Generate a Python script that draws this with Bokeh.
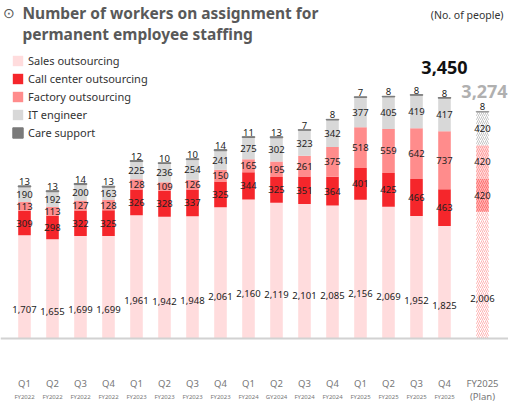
import numpy as np
from bokeh.plotting import figure
from bokeh.models import ColumnDataSource, Range1d, Label, Span, Legend, LegendItem
from bokeh.core.properties import value
from bokeh.embed import file_html
from bokeh.resources import INLINE

# ---------------- data ----------------
quarters = ["Q1", "Q2", "Q3", "Q4"] * 4
fiscal_years = (["FY2022"] * 4 + ["FY2023"] * 4 +
                ["FY2024", "GY2024", "FY2024", "FY2024"] + ["FY2025"] * 4)
sales = [1707, 1655, 1699, 1699, 1961, 1942, 1948, 2061, 2160, 2119, 2101, 2085, 2156, 2069, 1952, 1825]
call_center = [309, 298, 322, 325, 326, 328, 337, 325, 344, 325, 351, 364, 401, 425, 466, 463]
factory = [113, 113, 127, 128, 128, 109, 126, 150, 165, 195, 261, 375, 518, 559, 642, 737]
it_engineer = [190, 192, 200, 163, 225, 236, 254, 241, 275, 302, 323, 342, 377, 405, 419, 417]
care = [13, 13, 14, 13, 12, 10, 10, 14, 11, 13, 7, 8, 7, 8, 8, 8]

plan_label = ["FY2025", "(Plan)"]
plan_sales = [2006]
plan_call_center = [420]
plan_factory = [420]
plan_it_engineer = [420]
plan_care = [8]

series_names = ["Sales outsourcing", "Call center outsourcing", "Factory outsourcing",
                "IT engineer", "Care support"]

# ---------------- layout / style constants ----------------
W, H = 508, 402
AXIS_BASE = 400          # value where the bars start (truncated axis)
PX_PER_UNIT = 0.079
BASELINE_FROM_BOTTOM = 64
STEP_PX = 28
FIRST_CENTER_PX = 24
PLAN_GAP = 38 / 28
BAR_W = 0.45
SALES_LABEL_FRAC = 0.45
FONT_NAME = "Noto Sans"
FONT = value(FONT_NAME)

C_SALES = "#ffdcdd"
C_CALL = "#f5262b"
C_FACT = "#ff8c8c"
C_IT = "#d8d8d8"
C_CARE = "#7a7a7a"

y0 = AXIS_BASE - BASELINE_FROM_BOTTOM / PX_PER_UNIT
y1 = y0 + H / PX_PER_UNIT
x0 = -FIRST_CENTER_PX / STEP_PX
x1 = x0 + W / STEP_PX

p = figure(width=W, height=H, x_range=Range1d(x0, x1), y_range=Range1d(y0, y1),
           output_backend="svg", toolbar_location=None, min_border=0,
           x_axis_location=None, y_axis_location=None)
p.grid.visible = False
p.outline_line_color = None
p.background_fill_color = "white"


def stacks(s, c, f, i, k):
    s = np.array(s, float); c = np.array(c, float); f = np.array(f, float)
    i = np.array(i, float); k = np.array(k, float)
    t1 = s + c
    t2 = t1 + f
    t3 = t2 + i
    t4 = t3 + k
    return s, t1, t2, t3, t4


n = len(sales)
xq = np.arange(n, dtype=float)
xp = np.array([xq[-1] + PLAN_GAP])

s_t, c_t, f_t, i_t, k_t = stacks(sales, call_center, factory, it_engineer, care)
ps_t, pc_t, pf_t, pi_t, pk_t = stacks(plan_sales, plan_call_center, plan_factory,
                                      plan_it_engineer, plan_care)

qsrc = ColumnDataSource(dict(x=xq, base=[AXIS_BASE] * n, s=s_t, c=c_t, f=f_t, i=i_t, k=k_t))
psrc = ColumnDataSource(dict(x=xp, base=[AXIS_BASE], s=ps_t, c=pc_t, f=pf_t, i=pi_t, k=pk_t))

r_s = p.vbar(x="x", width=BAR_W, bottom="base", top="s", source=qsrc, fill_color=C_SALES, line_color=None)
r_c = p.vbar(x="x", width=BAR_W, bottom="s", top="c", source=qsrc, fill_color=C_CALL, line_color=None)
r_f = p.vbar(x="x", width=BAR_W, bottom="c", top="f", source=qsrc, fill_color=C_FACT, line_color=None)
r_i = p.vbar(x="x", width=BAR_W, bottom="f", top="i", source=qsrc, fill_color=C_IT, line_color=None)
r_k = p.vbar(x="x", width=BAR_W, bottom="i", top="k", source=qsrc, fill_color=C_CARE,
             line_color=C_CARE, line_width=1)

# plan bar (hatched)
p.vbar(x="x", width=BAR_W, bottom="base", top="s", source=psrc, fill_color="white",
       line_color=None, hatch_pattern="/", hatch_color="#ffb3b3", hatch_scale=4, hatch_weight=1)
p.vbar(x="x", width=BAR_W, bottom="s", top="c", source=psrc, fill_color="#ffb8b8",
       line_color=None, hatch_pattern="/", hatch_color="#ff6f6f", hatch_scale=4, hatch_weight=1)
p.vbar(x="x", width=BAR_W, bottom="c", top="f", source=psrc, fill_color="#ffdede",
       line_color=None, hatch_pattern="/", hatch_color="#ff9d9d", hatch_scale=4, hatch_weight=1)
p.vbar(x="x", width=BAR_W, bottom="f", top="i", source=psrc, fill_color="white",
       line_color=None, hatch_pattern="/", hatch_color="#c4c4c4", hatch_scale=4, hatch_weight=1)
p.vbar(x="x", width=BAR_W, bottom="i", top="k", source=psrc, fill_color="#9a9a9a",
       line_color="#9a9a9a", line_width=1)

p.add_layout(Span(location=AXIS_BASE, dimension="width", line_color="#d2d2d2", line_width=2))

# ---------------- segment labels ----------------
all_x = np.concatenate([xq, xp])
all_s = np.concatenate([s_t, ps_t])
all_c = np.concatenate([c_t, pc_t])
all_f = np.concatenate([f_t, pf_t])
all_i = np.concatenate([i_t, pi_t])
all_k = np.concatenate([k_t, pk_t])
v_s = list(sales) + plan_sales
v_c = list(call_center) + plan_call_center
v_f = list(factory) + plan_factory
v_i = list(it_engineer) + plan_it_engineer
v_k = list(care) + plan_care

lx, ly, lt = [], [], []
for j in range(len(all_x)):
    lx += [all_x[j]] * 4
    ly += [SALES_LABEL_FRAC * all_s[j], (all_s[j] + all_c[j]) / 2,
           (all_c[j] + all_f[j]) / 2, (all_f[j] + all_i[j]) / 2]
    lt += [f"{v_s[j]:,}", f"{v_c[j]:,}", f"{v_f[j]:,}", f"{v_i[j]:,}"]
lsrc = ColumnDataSource(dict(x=lx, y=ly, t=lt))
p.text(x="x", y="y", text="t", source=lsrc, text_align="center", text_baseline="middle",
       text_font=FONT, text_font_size="9.5px", text_color="#222222")

ksrc = ColumnDataSource(dict(x=all_x, y=all_k, t=[str(v) for v in v_k]))
p.text(x="x", y="y", text="t", source=ksrc, text_align="center", text_baseline="bottom",
       y_offset=-1, text_font=FONT, text_font_size="9.5px", text_color="#222222")

# totals
tq = ColumnDataSource(dict(x=[xq[-1]], y=[k_t[-1]], t=[f"{int(k_t[-1]):,}"]))
p.text(x="x", y="y", text="t", source=tq, text_align="center", text_baseline="middle",
       y_offset=-30, text_font=FONT, text_font_size="18px", text_font_style="bold",
       text_color="#111111")
tp = ColumnDataSource(dict(x=xp, y=pk_t, t=[f"{int(pk_t[0]):,}"]))
p.text(x="x", y="y", text="t", source=tp, text_align="center", text_baseline="middle",
       y_offset=-20, x_offset=2, text_font=FONT, text_font_size="18px", text_font_style="bold",
       text_color="#b0b0b0")

# ---------------- x labels ----------------
xl = ColumnDataSource(dict(x=xq, y=[AXIS_BASE] * n, q=quarters, fy=fiscal_years))
p.text(x="x", y="y", text="q", source=xl, text_align="center", text_baseline="middle",
       y_offset=45, text_font=FONT, text_font_size="9.5px", text_color="#777777")
p.text(x="x", y="y", text="fy", source=xl, text_align="center", text_baseline="middle",
       y_offset=58, text_font=FONT, text_font_size="6px", text_color="#777777")
xpl = ColumnDataSource(dict(x=xp, y=[AXIS_BASE], a=[plan_label[0]], b=[plan_label[1]]))
p.text(x="x", y="y", text="a", source=xpl, text_align="center", text_baseline="middle",
       y_offset=45, text_font=FONT, text_font_size="9.5px", text_color="#777777")
p.text(x="x", y="y", text="b", source=xpl, text_align="center", text_baseline="middle",
       y_offset=58, text_font=FONT, text_font_size="9.5px", text_color="#777777")

# ---------------- title, unit ----------------
p.add_layout(Label(x=8, y=H - 12, x_units="screen", y_units="screen", text="⊙",
                   text_font=FONT_NAME, text_font_size="14px", text_color="#555555",
                   text_align="center", text_baseline="middle"))
p.add_layout(Label(x=22, y=H - 12, x_units="screen", y_units="screen",
                   text="Number of workers on assignment for", text_font=FONT_NAME,
                   text_font_size="15.5px", text_font_style="bold", text_color="#595959",
                   text_baseline="middle"))
p.add_layout(Label(x=22, y=H - 33, x_units="screen", y_units="screen",
                   text="permanent employee staffing", text_font=FONT_NAME,
                   text_font_size="15.5px", text_font_style="bold", text_color="#595959",
                   text_baseline="middle"))
p.add_layout(Label(x=503, y=H - 14, x_units="screen", y_units="screen",
                   text="(No. of people)", text_font=FONT_NAME, text_font_size="10.5px",
                   text_color="#333333", text_align="right", text_baseline="middle"))

# ---------------- legend ----------------
legend = Legend(items=[LegendItem(label=series_names[0], renderers=[r_s]),
                       LegendItem(label=series_names[1], renderers=[r_c]),
                       LegendItem(label=series_names[2], renderers=[r_f]),
                       LegendItem(label=series_names[3], renderers=[r_i]),
                       LegendItem(label=series_names[4], renderers=[r_k])],
                location=(11, 262), orientation="vertical", padding=0, margin=0,
                spacing=3, label_height=15, glyph_width=13, glyph_height=13,
                label_standoff=4, border_line_color=None, background_fill_alpha=0,
                label_text_font=FONT_NAME, label_text_font_size="11px",
                label_text_color="#333333")
p.add_layout(legend, "center")

open("out.html", "w").write(file_html(p, INLINE))
